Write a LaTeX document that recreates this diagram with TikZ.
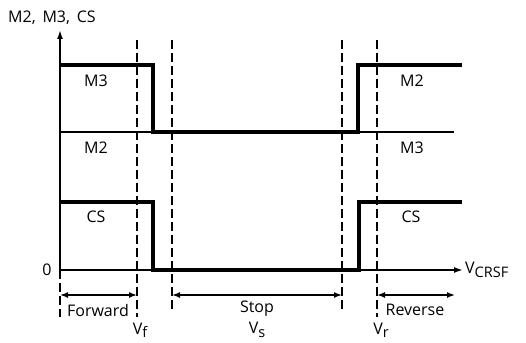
\documentclass[tikz,border=0pt]{standalone}
\usepackage{fontspec}
\setmainfont{Open Sans}
\usetikzlibrary{arrows.meta}
\newcommand\lsub[1]{\raisebox{-0.4ex}{\fontsize{14.5}{14.5}\selectfont #1}}
\begin{document}
\begin{tikzpicture}[x=1pt,y=-1pt,
  thin line/.style={line width=1.6pt},
  signal/.style={line width=3.4pt},
  guide/.style={line width=1.5pt, dash pattern=on 9pt off 4pt},
  tip/.style={-{Latex[length=9pt,width=6pt]}},
  dimarrow/.style={line width=1.5pt,{Latex[length=8pt,width=6pt]}-{Latex[length=8pt,width=6pt]}},
  lbl/.style={font=\fontsize{16}{16}\selectfont, inner sep=0pt}]
\useasboundingbox (0,0) rectangle (526,342);
% axes
\coordinate (O) at (60,270);
\coordinate (Ytop) at (60,30);
\coordinate (Xend) at (463,270);
\draw[thin line, tip] (O) -- (Ytop);
\draw[thin line, tip] (O) -- (Xend);
\node[lbl, anchor=west] (ylab) at (8,18) {M2,\, M3,\, CS};
\node[lbl, anchor=west] (xlab) at (465,270) {V\lsub{CRSF}};
\node[lbl] (zero) at (47,270) {0};
% guide lines
\draw[guide] (60,270) -- (60,317);
\draw[guide] (137,40) -- (137,317);
\draw[guide] (172,40) -- (172,312);
\draw[guide] (342,40) -- (342,312);
\draw[guide] (377,40) -- (377,317);
% M2/M3 thin line
\draw[thin line] (60,132) -- (454,132);
% M3/M2 signal
\draw[signal, line join=miter] (60,65) -- (153,65) -- (153,132) -- (358,132) -- (358,65) -- (462,65);
% CS signal
\draw[signal, line join=miter] (60,202) -- (153,202) -- (153,270) -- (359,270) -- (359,202) -- (462,202);
% signal labels
\node[lbl] (m3a) at (96,81) {M3};
\node[lbl] (m2a) at (96,148) {M2};
\node[lbl] (m2b) at (412,81) {M2};
\node[lbl] (m3b) at (412,148) {M3};
\node[lbl] (csa) at (96,217) {CS};
\node[lbl] (csb) at (411,217) {CS};
% region arrows
\coordinate (f1) at (60,295);
\coordinate (f2) at (137,295);
\coordinate (s1) at (172,295);
\coordinate (s2) at (342,295);
\coordinate (r1) at (377,295);
\coordinate (r2) at (455,295);
\draw[dimarrow] (f1) -- (f2);
\draw[dimarrow] (s1) -- (s2);
\draw[dimarrow] (r1) -- (r2);
\node[lbl] (fw) at (98,310) {Forward};
\node[lbl] (st) at (257,309) {Stop};
\node[lbl] (rv) at (415,310) {Reverse};
\node[lbl] (vf) at (140,330) {V\lsub{f}};
\node[lbl] (vs) at (257,330) {V\lsub{s}};
\node[lbl] (vr) at (381,330) {V\lsub{r}};
\end{tikzpicture}
\end{document}
